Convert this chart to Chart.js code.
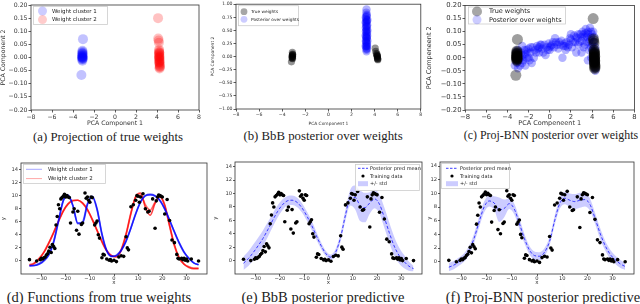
<!DOCTYPE html>
<html><head><meta charset="utf-8">
<script src="https://cdn.jsdelivr.net/npm/chart.js@4.4.0/dist/chart.umd.min.js"></script>
<style>
html,body{margin:0;padding:0;background:#fff;}
body{width:640px;height:304px;position:relative;overflow:hidden;}
canvas{position:absolute;}
.cap{position:absolute;font-family:"Liberation Serif",serif;color:#222;white-space:nowrap;transform:translate(-50%,-50%);line-height:1;}
.top{font-size:12.8px;}
.bot{font-size:14.5px;}
</style></head><body>
<canvas id="pa" width="210" height="127" style="left:0;top:0"></canvas>
<canvas id="pb" width="215" height="126" style="left:210px;top:0"></canvas>
<canvas id="pc" width="215" height="127" style="left:425px;top:0"></canvas>
<canvas id="pd" width="212" height="136" style="left:0;top:150px"></canvas>
<canvas id="pe" width="214" height="136" style="left:212px;top:150px"></canvas>
<canvas id="pf" width="214" height="136" style="left:426px;top:150px"></canvas>
<div class="cap top" style="left:108px;top:137px">(a) Projection of true weights</div>
<div class="cap top" style="left:323px;top:136px">(b) BbB posterior over weights</div>
<div class="cap top" style="left:551px;top:136px;font-size:11.9px">(c) Proj-BNN posterior over weights</div>
<div class="cap bot" style="left:99px;top:297px">(d) Functions from true weights</div>
<div class="cap bot" style="left:323px;top:297px">(e) BbB posterior predictive</div>
<div class="cap bot" style="left:543px;top:297px">(f) Proj-BNN posterior predictive</div>
<script>
// ---------- tick labels ----------
const pcaXTicks = [-8,-6,-4,-2,0,2,4,6,8];
const smallYTicks = [-0.20,-0.15,-0.10,-0.05,0.00,0.05,0.10,0.15,0.20];
const bbbYTicks = [-1.00,-0.75,-0.50,-0.25,0.00,0.25,0.50,0.75,1.00];
const fnXTicks = [-30,-20,-10,0,10,20,30];
const fnYTicks = [0,2,4,6,8,10,12,14];

// ---------- true weights (PCA projection) ----------
const trueW1 = [[-3.05,0.07],[-3.1,0.022],[-3.1,0.014],[-3.12,0.006],[-3.1,0.0],[-3.08,-0.004],[-3.12,-0.008],[-3.1,-0.012],[-3.2,-0.067],
  [-3.1,0.018],[-3.1,0.01],[-3.12,0.003],[-3.08,-0.002],[-3.1,-0.006],[-3.1,0.008],[-3.1,0.015],[-3.12,0.0],[-3.08,0.004],[-3.1,0.026]];
const trueW2 = [[4.1,0.15],[4.12,0.072],[4.15,0.065],[4.18,0.056],[4.2,0.03],[4.22,0.02],[4.2,0.012],[4.25,0.005],[4.22,0.0],[4.2,-0.006],[4.25,-0.012],[4.22,-0.02],[4.25,-0.028],[4.28,-0.035],[4.25,-0.042],
  [4.2,0.025],[4.22,0.015],[4.2,0.008],[4.22,-0.003],[4.24,-0.009],[4.22,-0.016],[4.25,-0.024],[4.26,-0.032],[4.24,-0.038],[4.2,0.002],[4.23,-0.018],[4.21,0.018]];

// ---------- BbB weights panel ----------
const bbbTrue = [[-3.2,-0.1],[-3.12,0.08],[-3.1,0.04],[-3.12,0.02],[-3.1,0.0],[-3.14,-0.02],[-3.1,-0.04],[-3.15,0.01],[-3.1,0.03],[-3.12,-0.01],[-3.1,0.05],[-3.13,-0.03],
  [4.05,0.16],[4.1,0.1],[4.15,0.06],[4.2,0.03],[4.22,0.0],[4.25,-0.03],[4.28,-0.06],[4.2,0.05],[4.25,-0.01],[4.22,0.02],[4.26,-0.04],[4.24,0.01],[4.27,-0.05]];
const bbbPost = [[3.3,0.9],[3.28,0.84],[3.32,0.8],[3.3,0.76],[3.26,0.72],[3.34,0.68],[3.3,0.64],[3.27,0.6],[3.33,0.56],[3.3,0.52],[3.25,0.48],[3.35,0.45],[3.3,0.42],[3.27,0.38],[3.33,0.35],[3.3,0.31],[3.26,0.28],[3.34,0.25],[3.3,0.22],[3.28,0.19],[3.32,0.16],[3.3,0.13],[3.3,0.1],[3.24,0.55],[3.36,0.4],[3.24,0.3],[3.36,0.6],[3.3,0.7],[3.3,0.5],[3.3,0.35],[3.3,0.2],[3.32,0.78],
  [3.22,0.65],[3.38,0.5],[3.22,0.4],[3.38,0.3],[3.22,0.2],[3.38,0.7],[3.24,0.75],[3.36,0.2],[3.3,0.58],[3.3,0.46],[3.3,0.27],[3.3,0.15],[3.28,0.66],[3.32,0.37]];

// ---------- Proj-BNN weights panel ----------
const projPost = [[-3.3,-0.03],[-3.2,0.0],[-3.1,-0.02],[-3.0,0.01],[-2.9,-0.01],[-3.2,0.02],[-3.0,-0.04],[-2.8,0.0],[-2.7,0.02],[-2.6,-0.02],[-2.5,0.01],[-2.4,0.03],[-2.2,0.0],[-2.1,0.02],[-2.0,0.035],[-1.9,-0.01],[-1.8,0.02],[-1.6,0.04],[-1.5,0.0],[-1.4,0.03],[-1.2,0.045],[-1.0,0.02],[-0.9,0.05],[-0.7,0.035],[-0.5,0.05],[-0.3,0.04],[-0.1,0.055],[0.0,0.03],[0.2,0.05],[0.4,0.04],[0.6,0.06],[0.8,0.035],[1.0,0.05],[1.1,0.065],[1.3,0.045],[1.5,0.03],[1.6,0.06],[1.8,0.05],[2.0,0.07],[2.1,0.04],[2.3,0.085],[2.4,0.06],[2.6,0.075],[2.7,0.05],[2.9,0.09],[3.0,0.065],[3.1,0.1],[3.2,0.04],[3.3,0.08],[3.4,0.11],[3.5,0.06],[3.6,0.09],[3.7,0.03],[3.8,0.07],[3.9,0.0],[3.9,0.1],[4.0,0.05],[4.1,-0.02],[4.2,0.08],[4.2,0.02],[4.3,-0.04],[4.3,0.04],[4.25,-0.01],[4.2,0.06],[4.3,-0.05],[2.5,0.02],[1.2,0.0],[-0.4,0.01],[-1.7,-0.02],[-2.3,-0.03],[3.6,-0.01],[3.0,0.02],[2.0,0.09],[0.5,0.075],[-2.6,0.045],[3.8,0.115],[4.0,0.09],
  [-3.1,0.0],[-3.0,-0.01],[-3.2,-0.01],[-2.9,0.02],[-2.8,-0.03],[-3.05,0.03],[-2.5,-0.01],[-2.3,0.015],[-2.0,0.0],[-1.8,0.04],[-1.3,0.02],[-1.1,0.035],[-0.8,0.05],[-0.6,0.02],[-0.2,0.03],[0.1,0.045],[0.3,0.06],[0.7,0.05],[0.9,0.06],[1.4,0.055],[1.7,0.04],[1.9,0.075],[2.2,0.06],[2.5,0.08],[2.8,0.06],[3.0,0.08],[3.2,0.09],[3.3,0.05],[3.5,0.08],[3.6,0.1],[3.7,0.06],[3.9,0.08],[4.0,0.03],[4.1,0.06],[4.15,0.0],[4.3,-0.02],[4.25,0.03],[4.1,0.1],[3.9,0.04],[3.4,0.095],[2.7,0.09],[1.5,0.045],[0.0,0.04],[-1.0,0.04],[-2.6,0.0],[-2.2,0.03]];

// ---------- training data ----------
const trainX = [-35,-32,-30.5,-30,-29.5,-29,-28.5,-28,-27.5,-27,-26.5,-26,-25.5,-25,-24.5,-24,-23.5,-23,-22.5,-22,-21.5,-21,-20.5,-20,-19.5,-19,-18.5,-18,-17,-16.5,-15.5,-15,-14.5,-13.5,-13,-12,-11.5,-11,-10.5,-10,-9.5,-9,-8,-7.5,-7,-6.5,-6,-5,-4.5,-4,-3,-2,-1.5,-1,0,1,2,3,4,5,5.5,6,7,8,9,9.5,10,10.5,11,12,13,14,14.5,16,17,17.5,18,18.5,19,19.5,20,21,22,23,24,25,26,26.5,27,28,28.5,29,29.5,30,30.5,32,35];
const trainY = [0.2,0.0,0.2,0.4,0.3,0.5,0.6,0.9,1.1,1.5,2.1,1.3,2.5,2.2,1.9,5.5,6.8,8.6,8.0,9.5,9.7,9.9,10.2,9.8,10.0,9.8,9.7,5.8,7.5,8.0,4.7,7.6,4.1,5.6,5.8,10.4,9.6,9.8,9.3,9.0,9.8,9.7,5.5,5.8,6.1,4.0,3.5,0.5,1.0,0.9,0.3,0.1,0.2,0.0,0.1,-0.1,0.6,0.8,0.7,3.7,2.0,1.7,8.3,8.6,9.3,10.0,9.9,9.0,9.8,10.3,8.0,7.5,7.6,9.5,5.0,9.2,9.8,10.1,10.0,9.9,9.8,7.2,9.4,6.2,3.2,2.8,1.0,0.4,0.3,0.4,0.2,0.4,0.1,0.3,0.0,0.3,0.0];

// ---------- function curves on a common x grid ----------
const gridX = [-35,-33,-31,-29,-27,-25,-23,-21,-19,-17,-15,-13,-11,-9,-7,-5,-3,-1,1,3,5,7,9,11,13,15,17,19,21,23,25,27,29,31,33,35];
const cluster1A = [-0.7,-0.7,-0.5,0.0,0.9,2.8,6.0,9.2,10.0,8.5,5.8,5.8,8.6,9.9,8.0,4.2,1.6,0.7,0.8,1.6,3.0,5.0,7.2,9.0,10.0,10.2,10.0,9.3,8.0,6.3,4.5,2.8,1.4,0.4,-0.3,-0.6];
const cluster1B = [-0.8,-0.7,-0.4,0.1,1.0,3.0,6.2,9.3,10.1,8.4,5.7,6.0,8.8,9.8,7.8,4.0,1.5,0.7,0.9,1.7,3.1,5.1,7.3,9.1,10.0,10.1,9.9,9.2,7.9,6.2,4.4,2.7,1.3,0.4,-0.3,-0.6];
const cluster2A = [-0.7,-0.4,0.3,1.3,2.7,4.3,6.0,7.6,8.7,9.2,9.3,8.9,7.9,6.4,4.7,3.0,1.6,0.8,0.6,1.6,4.0,7.2,9.9,10.4,8.2,7.0,8.8,9.9,8.6,5.5,2.5,0.5,-0.5,-1.0,-1.2,-1.2];
const cluster2B = [-0.6,-0.3,0.4,1.4,2.8,4.4,6.1,7.7,8.8,9.3,9.3,8.8,7.8,6.3,4.6,2.9,1.5,0.8,0.7,1.8,4.2,7.4,9.8,10.1,8.6,7.8,9.0,9.8,8.4,5.3,2.3,0.4,-0.5,-0.9,-1.1,-1.1];
const bbbMean = [-0.4,0.3,1.2,2.2,3.3,4.6,6.0,7.3,8.3,8.9,9.0,8.7,7.9,6.7,5.3,3.7,2.2,1.0,0.5,1.3,3.5,6.8,9.4,9.4,8.2,7.9,8.6,9.2,8.4,6.4,4.2,2.2,0.8,-0.1,-0.8,-1.2];
const bbbStd = [1.0,1.1,1.2,1.2,1.2,1.1,1.0,0.9,0.8,0.7,0.7,0.7,0.7,0.7,0.7,0.6,0.5,0.4,0.4,0.5,0.6,0.8,1.2,1.8,2.3,2.2,1.6,1.4,1.4,1.5,1.5,1.4,1.2,1.0,0.7,0.4];
const projMean = [-0.8,-0.5,0.0,0.6,1.6,3.4,5.8,8.0,8.9,8.6,7.6,7.8,8.5,7.7,5.6,3.4,1.7,0.9,0.8,1.4,3.0,6.0,8.5,9.3,9.0,8.8,9.0,9.1,8.4,6.4,4.2,2.4,1.1,0.3,-0.3,-0.7];
const projStd = [0.6,0.6,0.6,0.6,0.7,0.7,0.8,0.8,0.8,1.0,1.8,1.3,0.8,0.8,0.8,0.7,0.6,0.6,0.6,0.6,0.6,0.7,0.8,0.9,1.0,1.1,1.1,1.0,0.9,0.8,0.8,0.7,0.7,0.6,0.6,0.5];

// ---------- helpers ----------
Chart.defaults.font.family = '"DejaVu Sans", sans-serif';
Chart.defaults.color = '#333';
Chart.defaults.animation = false;
const MINUS = '\u2212';
const fmt = (v,d) => (v < 0 ? MINUS : '') + Math.abs(v).toFixed(d);
const pts = arr => arr.map(p => ({x:p[0], y:p[1]}));
const onGrid = ys => gridX.map((x,i) => ({x, y:ys[i]}));
const trainPts = trainX.map((x,i) => ({x, y:trainY[i]}));

const frame = {
  id:'frame',
  afterDatasetsDraw(chart){
    const {ctx, chartArea:a} = chart;
    ctx.save(); ctx.strokeStyle='#333'; ctx.lineWidth=0.8;
    ctx.strokeRect(a.left, a.top, a.right-a.left, a.bottom-a.top);
    ctx.restore();
  }
};
const boxLegend = {
  id:'boxLegend',
  afterDatasetsDraw(chart, args, o){
    if(!o || !o.items) return;
    const {ctx, chartArea:a} = chart;
    const bx = o.right != null ? a.right - o.right - o.w : a.left + o.x;
    const by = a.top + o.y;
    ctx.save();
    ctx.fillStyle='rgba(255,255,255,0.8)';
    ctx.fillRect(bx, by, o.w, o.h);
    ctx.strokeStyle='#cccccc'; ctx.lineWidth=0.8;
    ctx.strokeRect(bx+0.5, by+0.5, o.w-1, o.h-1);
    ctx.font = o.size + 'px "DejaVu Sans"';
    ctx.textBaseline='middle'; ctx.textAlign='left';
    o.items.forEach((it,i) => {
      const cy = by + o.r0 + i*o.rowH;
      const mx = bx + o.mx;
      if(it.type==='circle'){
        ctx.fillStyle=it.color; ctx.beginPath(); ctx.arc(mx+o.mw/2, cy, it.r, 0, Math.PI*2); ctx.fill();
      } else if(it.type==='line' || it.type==='dash'){
        ctx.strokeStyle=it.color; ctx.lineWidth=it.w||1;
        ctx.setLineDash(it.type==='dash' ? [2.5,1.5] : []);
        ctx.beginPath(); ctx.moveTo(mx, cy); ctx.lineTo(mx+o.mw, cy); ctx.stroke();
        ctx.setLineDash([]);
      } else if(it.type==='patch'){
        ctx.fillStyle=it.color; ctx.fillRect(mx, cy-it.h/2, o.mw, it.h);
      }
      ctx.fillStyle='#222';
      ctx.fillText(it.label, bx + o.tx, cy + 0.3);
    });
    ctx.restore();
  }
};

function axis(o){
  return {
    type:'linear', position:o.pos, min:o.min, max:o.max,
    afterBuildTicks: s => { s.ticks = o.ticks.map(v => ({value:v})); },
    afterFit: s => { if(o.pos==='left') s.width = o.size; else s.height = o.size; },
    ticks:{autoSkip:false, maxRotation:0, minRotation:0, font:{size:o.font}, color:'#333', padding:o.pad ?? 1,
           callback: v => fmt(v, o.dec)},
    grid:{drawOnChartArea:false, drawTicks:true, tickLength:o.tl ?? 2.5, color:'#333', lineWidth:0.8},
    border:{display:false},
    title:{display:true, text:o.title, font:{size:o.titleFont}, color:'#333', padding:{top:0, bottom:0}}
  };
}

function make(id, type, datasets, padding, xa, ya, legend){
  new Chart(document.getElementById(id), {
    type, data:{datasets},
    options:{
      responsive:false, devicePixelRatio:1, animation:false,
      layout:{padding},
      plugins:{legend:{display:false}, tooltip:{enabled:false}, boxLegend:legend},
      scales:{x:axis(xa), y:axis(ya)}
    },
    plugins:[frame, boxLegend]
  });
}

const BLUE_A = 'rgba(0,0,255,0.2)', RED_A = 'rgba(255,0,0,0.2)', GRAY_A = 'rgba(0,0,0,0.3)';

// (a)
make('pa','scatter',[
  {data:pts(trueW1), backgroundColor:'rgba(0,0,255,0.24)', borderWidth:0, pointRadius:5},
  {data:pts(trueW2), backgroundColor:'rgba(255,0,0,0.24)', borderWidth:0, pointRadius:5}
], {top:4, right:11, left:0, bottom:0},
 {pos:'bottom', min:-8, max:8, ticks:pcaXTicks, dec:0, font:6.2, title:'PCA Component 1', titleFont:6.2, size:17},
 {pos:'left', min:-0.2, max:0.2, ticks:smallYTicks, dec:2, font:6.2, title:'PCA Component 2', titleFont:6.2, size:31},
 {x:2, y:1, w:75, h:19, size:5.5, mx:5, mw:9, tx:19, r0:5, rowH:8.6, items:[
   {type:'circle', color:BLUE_A, r:4.5, label:'Weight cluster 1'},
   {type:'circle', color:RED_A, r:4.5, label:'Weight cluster 2'}]});

// (b)
make('pb','scatter',[
  {data:pts(bbbPost), backgroundColor:'rgba(0,0,255,0.3)', borderWidth:0, pointRadius:4.2},
  {data:pts(bbbTrue), backgroundColor:'rgba(0,0,0,0.42)', borderWidth:0, pointRadius:3.6}
], {top:4, right:3, left:0, bottom:0},
 {pos:'bottom', min:-8, max:8, ticks:pcaXTicks, dec:0, font:4.6, title:'PCA Component 1', titleFont:4.4, size:17},
 {pos:'left', min:-1, max:1, ticks:bbbYTicks, dec:2, font:4.6, title:'PCA Component 2', titleFont:4.4, size:26},
 {x:2, y:1, w:61, h:21, size:4.3, mx:2, mw:8, tx:13, r0:6.5, rowH:7.6, items:[
   {type:'circle', color:'rgba(0,0,0,0.35)', r:3.4, label:'True weights'},
   {type:'circle', color:'rgba(0,0,255,0.2)', r:3.4, label:'Posterior over weights'}]});

// (c)
make('pc','scatter',[
  {data:pts(projPost), backgroundColor:'rgba(0,0,255,0.3)', borderWidth:0, pointRadius:4.2, order:2},
  {data:pts(trueW1.concat(trueW2)), backgroundColor:'rgba(0,0,0,0.38)', borderWidth:0, pointRadius:5.5, order:1}
], {top:4, right:3, left:0, bottom:0},
 {pos:'bottom', min:-8, max:8, ticks:pcaXTicks, dec:0, font:6.8, title:'PCA Compeneent 1', titleFont:6.5, size:17},
 {pos:'left', min:-0.2, max:0.2, ticks:smallYTicks, dec:2, font:6.8, title:'PCA Compeneent 2', titleFont:6.5, size:40},
 {x:3, y:1, w:98, h:18, size:6.5, mx:4, mw:10, tx:21, r0:5, rowH:8.3, items:[
   {type:'circle', color:'rgba(0,0,0,0.35)', r:5, label:'True weights'},
   {type:'circle', color:BLUE_A, r:4.5, label:'Posterior over weights'}]});

// (d)
const lineDs = (ys, color) => ({type:'line', data:onGrid(ys), borderColor:color, borderWidth:1.6, pointRadius:0, fill:false, cubicInterpolationMode:'monotone', order:3});
make('pd','line',[
  {type:'line', data:trainPts, showLine:false, pointRadius:1.8, pointBackgroundColor:'#000', pointBorderWidth:0, order:0},
  lineDs(cluster1A, 'rgba(0,0,255,0.75)'),
  lineDs(cluster1B, 'rgba(0,0,255,0.6)'),
  lineDs(cluster2A, 'rgba(255,0,0,0.75)'),
  lineDs(cluster2B, 'rgba(255,0,0,0.6)')
], {top:13, right:5, left:0, bottom:0},
 {pos:'bottom', min:-38.5, max:38.5, ticks:fnXTicks, dec:0, font:5.2, title:'x', titleFont:5.5, size:12, tl:2, pad:0},
 {pos:'left', min:-2, max:15, ticks:fnYTicks, dec:0, font:5.2, title:'y', titleFont:5.5, size:21, tl:2},
 {x:2, y:1, w:83, h:20, size:5.5, mx:3, mw:16, tx:25, r0:5.3, rowH:9.3, items:[
   {type:'line', color:'rgba(0,0,255,0.35)', w:1, label:'Weight cluster 1'},
   {type:'line', color:'rgba(255,0,0,0.35)', w:1, label:'Weight cluster 2'}]});

// (e), (f)
function predPanel(id, mean, std, pad, yMin, yMax, ySize, legend){
  make(id,'line',[
    {type:'line', data:trainPts, showLine:false, pointRadius:1.8, pointBackgroundColor:'#000', pointBorderWidth:0, order:0},
    {type:'line', data:onGrid(mean), borderColor:'rgba(30,30,255,0.85)', borderWidth:1, borderDash:[3,2], pointRadius:0, fill:false, cubicInterpolationMode:'monotone', order:1},
    {type:'line', data:onGrid(mean.map((m,i)=>m+std[i])), borderWidth:0, pointRadius:0, backgroundColor:'rgba(0,0,255,0.2)', fill:'+1', cubicInterpolationMode:'monotone', order:5},
    {type:'line', data:onGrid(mean.map((m,i)=>m-std[i])), borderWidth:0, pointRadius:0, fill:false, cubicInterpolationMode:'monotone', order:6}
  ], pad,
   {pos:'bottom', min:-38.5, max:38.5, ticks:fnXTicks, dec:0, font:5.2, title:'x', titleFont:5.5, size:12, tl:2, pad:0},
   {pos:'left', min:yMin, max:yMax, ticks:fnYTicks, dec:0, font:5.2, title:'y', titleFont:5.5, size:ySize, tl:2},
   legend);
}
const predItems = [
  {type:'dash', color:'rgba(30,30,255,0.85)', w:1, label:'Posterior pred mean'},
  {type:'circle', color:'#000', r:1.6, label:'Training data'},
  {type:'patch', color:'rgba(0,0,255,0.2)', h:5, label:'+/- std'}];
predPanel('pe', bbbMean, bbbStd, {top:12, right:3, left:0, bottom:0}, -2, 14.7, 23,
  {right:2, y:2, w:65, h:27, size:5, mx:3, mw:10, tx:15, r0:4.3, rowH:7.7, items:predItems});
predPanel('pf', projMean, projStd, {top:12, right:6, left:0, bottom:0}, -1.8, 14.6, 14,
  {x:1, y:1, w:69, h:26, size:5, mx:5, mw:12, tx:19, r0:5.3, rowH:7.7, items:predItems});
</script>
</body></html>
